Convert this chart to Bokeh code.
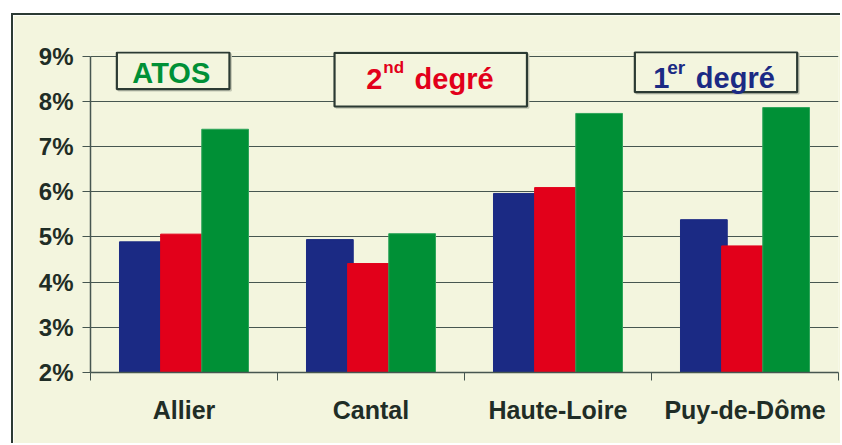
import numpy as np
from bokeh.plotting import figure
from bokeh.models import (Range1d, FixedTicker, BoxAnnotation, Label)
from bokeh.embed import file_html
from bokeh.resources import INLINE

# ---- data ----
categories = ["Allier", "Cantal", "Haute-Loire", "Puy-de-Dôme"]
premier_degre = [4.89, 4.94, 5.96, 5.38]   # blue
second_degre = [5.06, 4.41, 6.09, 4.80]    # red
atos = [7.38, 5.07, 7.73, 7.86]            # green
y_ticks = [2, 3, 4, 5, 6, 7, 8, 9]
y_tick_labels = ["2%", "3%", "4%", "5%", "6%", "7%", "8%", "9%"]

BLUE = "#1B2A84"
RED = "#E2001A"
GREEN = "#009036"
CREAM = "#F3F5DE"
DARK = "#1F2D26"
GRID = "#465650"
BOXLINE = "#2B3A33"
SHADOW = "#C4C7B4"
FONT = "Liberation Sans"

p = figure(width=829, height=430, output_backend="svg", toolbar_location=None,
           x_range=Range1d(0, 4), y_range=Range1d(2, 9.1),
           min_border_left=77, min_border_right=4, min_border_top=36, min_border_bottom=73)
p.styles = {"margin-left": "11px", "margin-top": "13px",
            "border-left": "2px solid " + BOXLINE, "border-top": "2px solid " + BOXLINE}
p.border_fill_color = CREAM
p.background_fill_color = CREAM
p.outline_line_color = None

centers = np.arange(len(categories)) + 0.5
width = 0.25
p.vbar(x=centers - 0.22, top=premier_degre, bottom=2, width=width, fill_color=BLUE, line_color=BLUE)
p.vbar(x=centers, top=second_degre, bottom=2, width=width, fill_color=RED, line_color=RED)
p.vbar(x=centers + 0.22, top=atos, bottom=2, width=width, fill_color=GREEN, line_color="#2EA55A", line_width=1)

# axes
xa = p.xaxis[0]
xa.ticker = FixedTicker(ticks=list(centers), minor_ticks=[0, 1, 2, 3, 4])
xa.major_label_overrides = {float(c): n for c, n in zip(centers, categories)}
xa.major_tick_out = 0
xa.major_tick_in = 0
xa.minor_tick_out = 8
xa.minor_tick_in = 0
xa.minor_tick_line_color = GRID
xa.axis_line_color = GRID
xa.axis_line_width = 1.5
xa.major_label_text_font = FONT
xa.major_label_text_font_style = "bold"
xa.major_label_text_font_size = "25px"
xa.major_label_text_color = DARK
xa.major_label_standoff = 15

ya = p.yaxis[0]
ya.ticker = FixedTicker(ticks=y_ticks)
ya.bounds = (2, 9)
ya.major_label_overrides = {t: l for t, l in zip(y_ticks, y_tick_labels)}
ya.major_tick_out = 8
ya.major_tick_in = 0
ya.minor_tick_out = 0
ya.minor_tick_in = 0
ya.major_tick_line_color = GRID
ya.axis_line_color = GRID
ya.axis_line_width = 1.5
ya.major_label_text_font = FONT
ya.major_label_text_font_style = "bold"
ya.major_label_text_font_size = "24px"
ya.major_label_text_color = DARK
ya.major_label_standoff = 9

p.xgrid.visible = False
p.ygrid.ticker = FixedTicker(ticks=y_ticks)
p.ygrid.grid_line_color = GRID
p.ygrid.grid_line_width = 1.2

# legend-like boxes (with a faint shadow)
boxes = [(0.141, 0.743, 9.078, 8.266),
         (1.305, 2.334, 9.071, 7.884),
         (2.911, 3.779, 9.085, 8.200)]
for (l, r, t, b) in boxes:
    p.add_layout(BoxAnnotation(left=l + 0.009, right=r + 0.009, top=t - 0.035, bottom=b - 0.035,
                               fill_color=SHADOW, fill_alpha=1.0,
                               line_color=SHADOW, line_alpha=1.0, line_width=1.5))
for (l, r, t, b) in boxes:
    p.add_layout(BoxAnnotation(left=l, right=r, top=t, bottom=b, fill_color=CREAM, fill_alpha=1.0,
                               line_color=BOXLINE, line_alpha=1.0, line_width=2.2))

def lab(x, y, text, color, size, align="left"):
    p.add_layout(Label(x=x, y=y, text=text, text_color=color, text_font=FONT,
                       text_font_style="bold", text_font_size=size,
                       text_align=align, text_baseline="alphabetic"))

lab(0.432, 8.629, "ATOS", GREEN, "29px", "center")
lab(1.474, 8.496, "2", RED, "29px")
lab(1.566, 8.740, "nd", RED, "17px")
lab(1.733, 8.496, "degré", RED, "29px")
lab(3.009, 8.510, "1", BLUE, "29px")
lab(3.084, 8.753, "er", BLUE, "19px")
lab(3.237, 8.510, "degré", BLUE, "29px")

open("out.html", "w").write(file_html(p, INLINE))
